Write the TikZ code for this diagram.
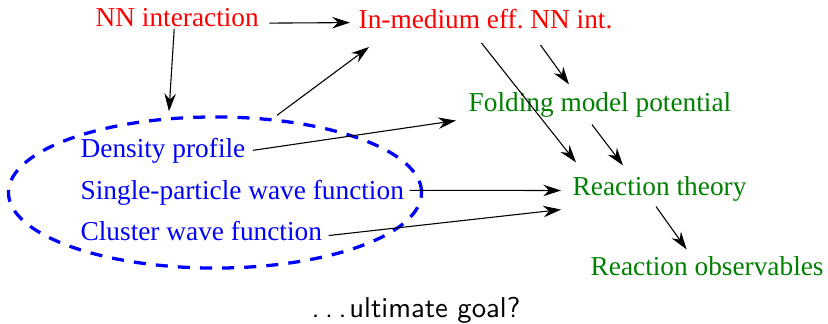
\documentclass[tikz,border=0pt]{standalone}
\usepackage{fontspec}
\setmainfont{Liberation Serif}
\usetikzlibrary{shapes.geometric,arrows.meta,calc}
\definecolor{rxgreen}{rgb}{0,0.5,0}
\tikzset{
    label/.style={anchor=base west, font=\fontsize{10}{12}\selectfont},
    nnbox/.style={label, text=red},
    stbox/.style={label, text=blue},
    rxbox/.style={label, text=rxgreen},
    goalbox/.style={anchor=base west, font=\sffamily\fontsize{10.5}{12}\selectfont},
    structure/.style={ellipse, draw=blue, line width=1.2pt, dash pattern=on 4.4pt off 3.7pt,
        minimum width=151.2pt, minimum height=55.3pt, inner sep=0pt},
    flow/.style={-{Stealth[length=6.5pt, width=4.2pt]}},
}

\begin{document}
\begin{tikzpicture}[x=0.366pt, y=-0.366pt]
    \useasboundingbox (0,0) rectangle (828,323);
    \node[structure] (struct) at (215,192.5) {};

    \node[nnbox] (nn) at (86,26) {NN interaction};
    \node[nnbox] (med) at (349,28) {In-medium eff.\ NN int.};
    \node[rxbox] (fold) at (459,111) {Folding model potential};
    \node[stbox] (dens) at (71,157) {Density profile};
    \node[stbox] (spwf) at (71,199) {Single-particle wave function};
    \node[stbox] (clwf) at (71,240) {Cluster wave function};
    \node[rxbox] (rt) at (563,195) {Reaction theory};
    \node[rxbox] (obs) at (581,275) {Reaction observables};
    \node[goalbox] (goal) at (302,317) {.\kern.19em.\kern.19em.\kern.1em ultimate goal?};

    \draw[flow] ($(nn.east)+(1,6)$) -- ($(med.west)+(1,4)$);
    \draw[flow] ($(nn.south)+(-3,-7)$) -- ($(struct.north)+(-46,-4)$);
    \draw[flow] ($(struct.north)+(62,0)$) -- ($(med.south west)+(20,9)$);
    \draw[flow] ($(med.south)+(55,7)$) -- ($(fold.north)+(-31,2)$);
    \draw[flow] ($(med.south)+(-4,5)$) -- ($(rt.north west)+(13,-4)$);
    \draw[flow] ($(dens.east)+(-2,0)$) -- ($(fold.south west)+(-3,-6)$);
    \draw[flow] ($(fold.south)+(-8,-2)$) -- ($(rt.north)+(-36.5,-1)$);
    \draw[flow] ($(spwf.east)+(-4,-2)$) -- ($(rt.west)+(-2,2)$);
    \draw[flow] ($(clwf.east)+(-3,5)$) -- ($(rt.south west)+(-2,-1)$);
    \draw[flow] ($(rt.south)+(-3.5,-4)$) -- ($(obs.north)+(-20.5,3)$);
\end{tikzpicture}
\end{document}
